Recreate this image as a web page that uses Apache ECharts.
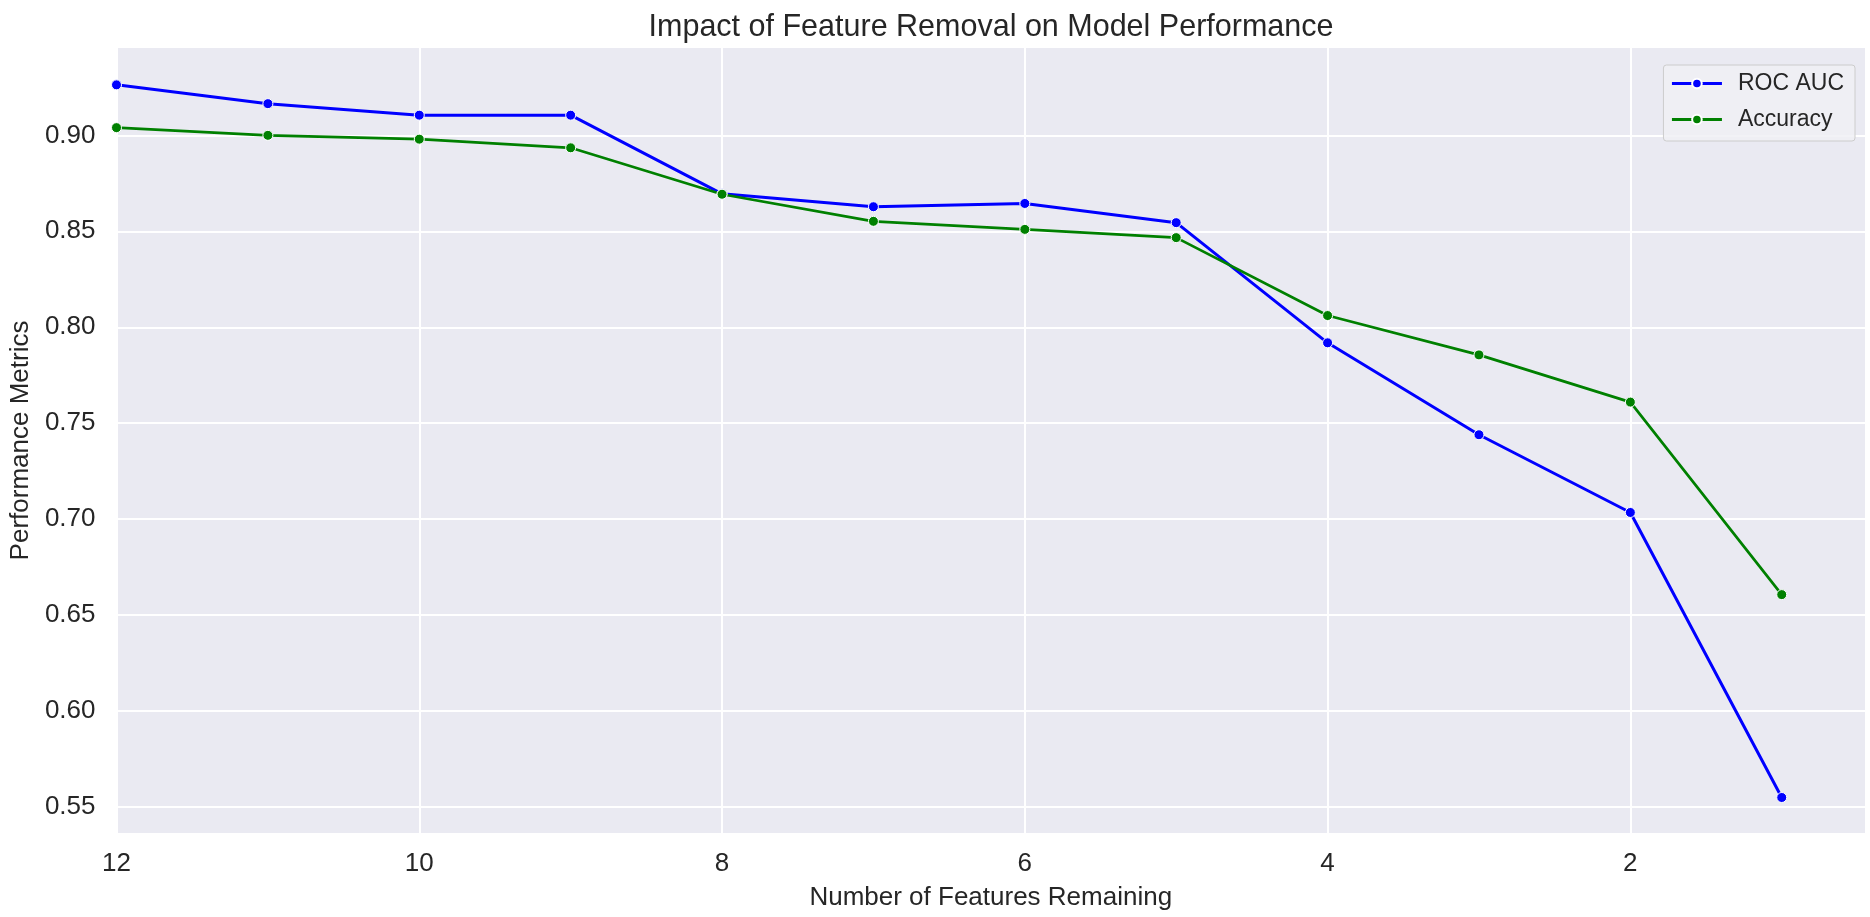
<!DOCTYPE html>
<html>
<head>
<meta charset="utf-8">
<script src="https://cdn.jsdelivr.net/npm/echarts@6/dist/echarts.min.js"></script>
<style>
html,body{margin:0;padding:0;background:#fff;}
#chart{width:1870px;height:917px;}
</style>
</head>
<body>
<div id="chart"></div>
<script>
const features = [12, 11, 10, 9, 8, 7, 6, 5, 4, 3, 2, 1];
const rocAuc = [0.9263, 0.9165, 0.9105, 0.9105, 0.8695, 0.8628, 0.8645, 0.8545, 0.7919, 0.7440, 0.7035, 0.5550];
const accuracy = [0.9040, 0.9000, 0.8980, 0.8935, 0.8693, 0.8552, 0.8510, 0.8467, 0.8061, 0.7856, 0.7610, 0.6607];
const xTicks = [2, 4, 6, 8, 10, 12];
const yTicks = [0.55, 0.60, 0.65, 0.70, 0.75, 0.80, 0.85, 0.90];

const font = 'Liberation Sans, Arial, sans-serif';
const txt = '#262626';
const chart = echarts.init(document.getElementById('chart'));
chart.setOption({
  backgroundColor: '#ffffff',
  animation: false,
  title: {
    text: 'Impact of Feature Removal on Model Performance',
    left: 986, textAlign: 'center', top: 7,
    textStyle: {fontFamily: font, fontSize: 30.5, fontWeight: 'normal', color: txt}
  },
  legend: {
    orient: 'vertical',
    right: 15, top: 65,
    padding: [7, 11, 10, 7],
    itemGap: 13,
    itemWidth: 50, itemHeight: 12,
    backgroundColor: 'rgba(240,240,245,0.85)',
    borderColor: '#cccccc', borderWidth: 1, borderRadius: 3,
    lineStyle: {width: 3},
    textStyle: {fontFamily: font, fontSize: 23, color: txt, padding: [0, 0, 0, 11]},
    data: ['ROC AUC', 'Accuracy']
  },
  grid: {
    left: 108, right: 5, top: 48, bottom: 84,
    show: true, backgroundColor: '#EAEAF2', borderWidth: 0
  },
  xAxis: {
    type: 'value', inverse: true, min: 0.45, max: 12,
    name: 'Number of Features Remaining', nameLocation: 'middle', nameGap: 52,
    nameTextStyle: {fontFamily: font, fontSize: 26, color: txt},
    axisLine: {show: false},
    axisTick: {show: false, customValues: xTicks},
    axisLabel: {customValues: xTicks, fontFamily: font, fontSize: 26, color: txt, margin: 18},
    splitLine: {show: true, lineStyle: {color: '#ffffff', width: 2}}
  },
  yAxis: {
    type: 'value', min: 0.5365, max: 0.9455,
    name: 'Performance Metrics', nameLocation: 'middle', nameGap: 82,
    nameTextStyle: {fontFamily: font, fontSize: 26, color: txt},
    axisLine: {show: false},
    axisTick: {show: false, customValues: yTicks},
    axisLabel: {customValues: yTicks, fontFamily: font, fontSize: 26, color: txt, margin: 21,
      formatter: v => v.toFixed(2)},
    splitLine: {show: true, lineStyle: {color: '#ffffff', width: 2}}
  },
  series: [
    {
      name: 'ROC AUC', type: 'line',
      data: features.map((f, i) => [f, rocAuc[i]]),
      symbol: 'circle', symbolSize: 10,
      lineStyle: {color: '#0000ff', width: 3},
      itemStyle: {color: '#0000ff', borderColor: '#ffffff', borderWidth: 1}
    },
    {
      name: 'Accuracy', type: 'line',
      data: features.map((f, i) => [f, accuracy[i]]),
      symbol: 'circle', symbolSize: 10,
      lineStyle: {color: '#008000', width: 2.7},
      itemStyle: {color: '#008000', borderColor: '#ffffff', borderWidth: 1}
    }
  ]
});
</script>
</body>
</html>
